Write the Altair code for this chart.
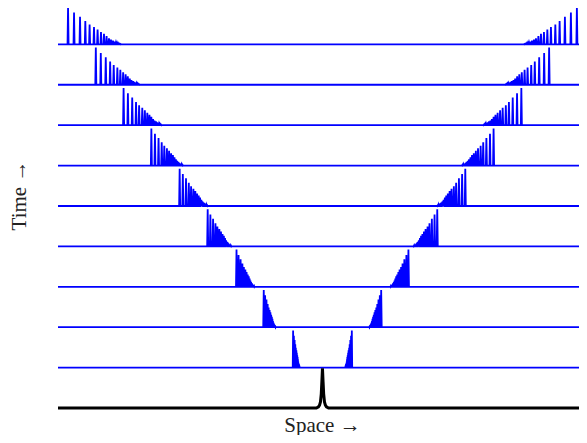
import altair as alt
import pandas as pd

# ---- values ----
rows = [1, 2, 3, 4, 5, 6, 7, 8, 9]                      # time slices (baseline level)
edge = [1.11, 2.22, 3.25, 4.34, 5.40, 6.47, 7.52, 8.57, 9.62]   # distance of leading spike from centre
packet_width = [0.25, 0.45, 0.68, 0.90, 1.06, 1.20, 1.44, 1.66, 2.00]  # leading spike -> tail
peak = [0.92, 0.92, 0.92, 0.92, 0.92, 0.92, 0.92, 0.92, 0.92]   # height of the leading spike

# spike pattern inside a packet (position, amplitude), read from the top row
spike_pos = [0, 6, 12, 17.3, 21.6, 26, 29.6, 33, 36, 38.6, 41, 43, 45, 46.6, 48,
             49.2, 50.3, 51.3, 52.2, 53]
spike_amp = [40, 34.3, 29.7, 25, 21.3, 18.6, 16, 13.3, 11.3, 9, 6.6, 5, 4, 3, 2.2,
             1.6, 1.1, 0.7, 0.4, 0.2]

# initial pulse (bottom, black)
pulse_dx = [-10, -0.23, -0.15, -0.11, -0.076, -0.045, -0.023, 0, 0.023, 0.045, 0.076, 0.11, 0.15, 0.23, 10]
pulse_h = [0, 0, 0.03, 0.07, 0.15, 0.35, 0.65, 0.98, 0.65, 0.35, 0.15, 0.07, 0.03, 0, 0]

x_min, x_max = -10, 10

# ---- build line tables ----
recs = []
half = 0.02
fr = [s / spike_pos[-1] for s in spike_pos]
am = [a / spike_amp[0] for a in spike_amp]
n = len(fr)
for k, e, w, p in zip(rows, edge, packet_width, peak):
    pts = [(x_min, k)]
    # left packet (outer -> inner)
    for i in range(n):
        x = -e + fr[i] * w
        gap = (fr[i + 1] - fr[i]) * w if i < n - 1 else (fr[i] - fr[i - 1]) * w
        d = min(half, gap / 2)
        pts += [(x - d, k), (x, k + p * am[i]), (x + d, k)]
    # right packet (inner -> outer)
    for i in reversed(range(n)):
        x = e - fr[i] * w
        gap = (fr[i + 1] - fr[i]) * w if i < n - 1 else (fr[i] - fr[i - 1]) * w
        d = min(half, gap / 2)
        pts += [(x - d, k), (x, k + p * am[i]), (x + d, k)]
    pts.append((x_max, k))
    for j, (x, y) in enumerate(pts):
        recs.append({"row": k, "x": x, "y": y, "seq": j})
waves = pd.DataFrame(recs)

pulse = pd.DataFrame({"x": pulse_dx, "y": pulse_h, "seq": list(range(len(pulse_dx)))})

# plot area spans the visible part of the space axis
xs = alt.Scale(domain=[-10, 9.70], nice=False, zero=False)
ys = alt.Scale(domain=[0, 9.9], nice=False, zero=False)

title_font = "Liberation Serif"

blue = alt.Chart(waves).mark_line(color="#0000ff", strokeWidth=1.8, strokeJoin="miter", clip=False).encode(
    x=alt.X("x:Q", scale=xs, axis=alt.Axis(title="Space →", domain=False, ticks=False, labels=False,
                                           grid=False, titleFont=title_font,
                                           titleFontSize=21, titleFontWeight="normal", titleColor="#222",
                                           titleX=264, titleAlign="center",
                                           titleY=23, titleBaseline="alphabetic")),
    y=alt.Y("y:Q", scale=ys, axis=alt.Axis(title="Time →", domain=False, ticks=False, labels=False,
                                           grid=False, titleFont=title_font, titleFontSize=21,
                                           titleFontWeight="normal", titleColor="#222",
                                           titleX=-39, titleY=187, titleAngle=270,
                                           titleAlign="center", titleBaseline="middle")),
    detail="row:N",
    order="seq:Q",
)

black = alt.Chart(pulse).mark_line(color="#000000", strokeWidth=3, clip=False).encode(
    x=alt.X("x:Q", scale=xs),
    y=alt.Y("y:Q", scale=ys),
    order="seq:Q",
)

chart = alt.layer(blue, black).properties(
    width=521, height=400,
    autosize=alt.AutoSizeParams(type="none"),
    padding={"left": 50, "top": 0, "right": 0, "bottom": 27},
).configure_view(stroke=None)

chart.save("out.html", embed_options={"renderer": "svg", "actions": False})
